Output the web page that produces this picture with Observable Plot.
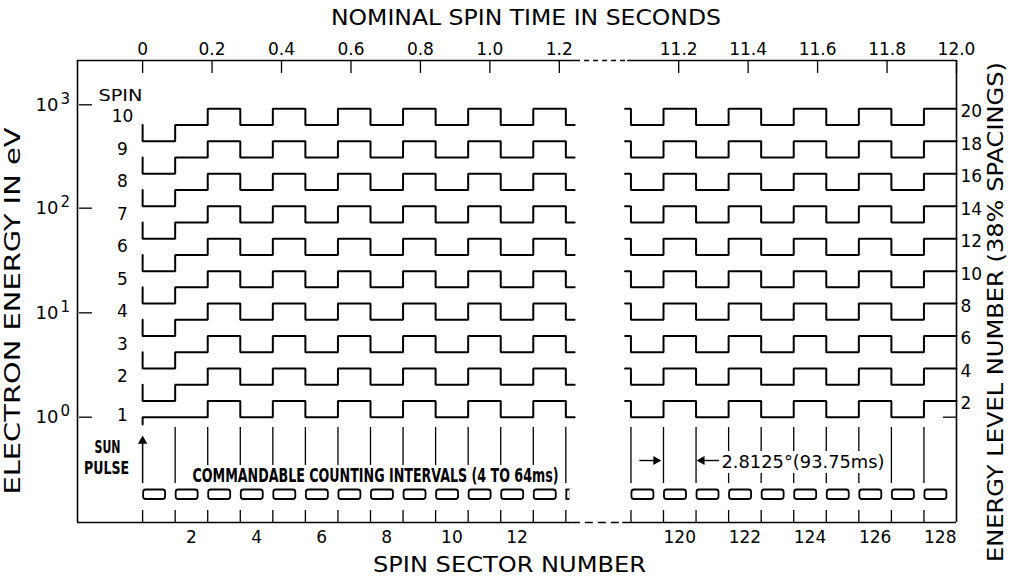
<!DOCTYPE html>
<html><head><meta charset="utf-8">
<script src="https://cdn.jsdelivr.net/npm/d3@7"></script>
<script src="https://cdn.jsdelivr.net/npm/@observablehq/plot@0.6"></script>
<style>html,body{margin:0;padding:0;background:#fff;} #chart svg{display:block;}</style>
</head><body><div id="chart"></div>
<script>
// ---------------- data ----------------
const spins = [1, 2, 3, 4, 5, 6, 7, 8, 9, 10];
const spinStartLevel = [0.55, 3, 5, 7, 9, 11, 13, 15, 17, 19];
const spinFirstLevel = [1, 2, 4, 6, 8, 10, 12, 14, 16, 18];
const spinLowLevel   = [1, 3, 5, 7, 9, 11, 13, 15, 17, 19];
const spinHighLevel  = [2, 4, 6, 8, 10, 12, 14, 16, 18, 20];
const spinLabelLevel = [1.1, 3.5, 5.5, 7.5, 9.5, 11.5, 13.5, 15.5, 17.5, 19.5];

const leftSectors = [1, 2, 3, 4, 5, 6, 7, 8, 9, 10, 11, 12, 13];
const leftSectorState = ["first", "low", "high", "low", "high", "low", "high", "low", "high", "low", "high", "low", "high"];
const leftTailState = "low";
const rightSectors = [119, 120, 121, 122, 123, 124, 125, 126, 127, 128];
const rightSectorState = ["low", "high", "low", "high", "low", "high", "low", "high", "low", "high"];
const rightLeadState = "high";

const sectorLabelsLeft = [2, 4, 6, 8, 10, 12];
const sectorLabelsRight = [120, 122, 124, 126, 128];
const timeTicks = [0, 0.2, 0.4, 0.6, 0.8, 1.0, 1.2, 11.2, 11.4, 11.6, 11.8, 12.0];
const timeTickLabels = ["0", "0.2", "0.4", "0.6", "0.8", "1.0", "1.2", "11.2", "11.4", "11.6", "11.8", "12.0"];
const energyExponents = ["0", "1", "2", "3"];
const energyTickLevels = [1, 7.43, 13.88, 20.25];
const levelLabels = [2, 4, 6, 8, 10, 12, 14, 16, 18, 20];
const levelTickExtra = [1];

const sectorSeconds = 0.09375;        // 93.75 ms per sector
const spacingText = "2.8125°(93.75ms)";
const countText = "COMMANDABLE COUNTING INTERVALS (4 TO 64ms)";
const titleTop = "NOMINAL SPIN TIME IN SECONDS";
const titleBottom = "SPIN SECTOR NUMBER";
const titleLeft = "ELECTRON ENERGY IN eV";
const titleRight = "ENERGY LEVEL NUMBER (38% SPACINGS)";

// ---------------- layout (sector units, broken axis) ----------------
const BREAK_SHIFT = 103;
const sectorU = n => n <= 64 ? n - 1 : n - 1 - BREAK_SHIFT;
const timeU = t => t < 6 ? t / sectorSeconds : t / sectorSeconds - BREAK_SHIFT;
const xDomain = [-2, 25];
const yDomain = [-5.49, 22.98];
const topBreak = [13.3, 14.9];
const bottomBreak = [13.2, 14.75];
const stubLen = 0.27, leadLen = 0.18;
const annLevel = -1.67;
const countTextSpan = [1.47, 12.84];
const spacingTextSpan = [17.72, 22.85];

// waveform vertices
const wave = [];
spins.forEach((s, i) => {
  const lv = {first: spinFirstLevel[i], low: spinLowLevel[i], high: spinHighLevel[i]};
  const u0 = sectorU(leftSectors[0]);
  wave.push({u: u0, level: spinStartLevel[i], key: s + "L"});
  leftSectors.forEach((n, j) => {
    const l = lv[leftSectorState[j]];
    wave.push({u: sectorU(n), level: l, key: s + "L"}, {u: sectorU(n) + 1, level: l, key: s + "L"});
  });
  const endU = sectorU(leftSectors[leftSectors.length - 1]) + 1;
  wave.push({u: endU, level: lv[leftTailState], key: s + "L"}, {u: endU + stubLen, level: lv[leftTailState], key: s + "L"});
  const r0 = sectorU(rightSectors[0]);
  wave.push({u: r0 - leadLen, level: lv[rightLeadState], key: s + "R"}, {u: r0, level: lv[rightLeadState], key: s + "R"});
  rightSectors.forEach((n, j) => {
    const l = lv[rightSectorState[j]];
    wave.push({u: sectorU(n), level: l, key: s + "R"}, {u: sectorU(n) + 1, level: l, key: s + "R"});
  });
});

const leftBounds = leftSectors.map(sectorU).concat([sectorU(leftSectors[leftSectors.length - 1]) + 1]);
const rightBounds = rightSectors.map(sectorU);
const allBounds = leftBounds.concat(rightBounds);
const innerBounds = allBounds.filter(u => u !== 0);
const boxSectors = leftSectors.concat(rightSectors);
const partialBox = [leftSectors[leftSectors.length - 1] + 1];

const F = "DejaVu Sans, Liberation Sans, sans-serif";
const FN = "DejaVu Sans Condensed, Liberation Sans Narrow, DejaVu Sans, sans-serif";

const chart = Plot.plot({
  width: 1019, height: 580,
  marginLeft: 77, marginRight: 63, marginTop: 60, marginBottom: 58,
  x: {domain: xDomain, axis: null},
  y: {domain: yDomain, axis: null},
  style: {fontFamily: F, background: "white", color: "black"},
  marks: [
    // frame
    Plot.ruleX([xDomain[0], xDomain[1]], {strokeWidth: 1.6}),
    Plot.ruleY([yDomain[1]], {x1: xDomain[0], x2: topBreak[0], strokeWidth: 1.6}),
    Plot.ruleY([yDomain[1]], {x1: topBreak[0], x2: topBreak[1], strokeWidth: 1.4, strokeDasharray: "5,4"}),
    Plot.ruleY([yDomain[1]], {x1: topBreak[1], x2: xDomain[1], strokeWidth: 1.6}),
    Plot.ruleY([yDomain[0]], {x1: xDomain[0], x2: bottomBreak[0], strokeWidth: 1.6}),
    Plot.ruleY([yDomain[0]], {x1: bottomBreak[0], x2: bottomBreak[1], strokeWidth: 1.4, strokeDasharray: "8,5"}),
    Plot.ruleY([yDomain[0]], {x1: bottomBreak[1], x2: xDomain[1], strokeWidth: 1.6}),
    // top time ticks
    Plot.ruleX(timeTicks.map(timeU), {insetBottom: 449, strokeWidth: 1.3}),
    Plot.text(timeTicks, {x: timeU, text: (d, i) => timeTickLabels[i], frameAnchor: "top", dy: -10.5, lineAnchor: "middle", fontSize: 17}),
    // bottom sector ticks
    Plot.ruleX(allBounds, {insetTop: 450, strokeWidth: 1.3}),
    Plot.text(sectorLabelsLeft.concat(sectorLabelsRight), {x: d => sectorU(d) + 0.5, text: d => String(d), frameAnchor: "bottom", dy: 15, lineAnchor: "middle", fontSize: 17}),
    // sector boundary lines
    Plot.ruleX(innerBounds, {insetTop: 367, insetBottom: 39, strokeWidth: 1.3}),
    // sun pulse
    Plot.ruleX([0], {insetTop: 380, insetBottom: 39, strokeWidth: 1.5}),
    Plot.dot([0], {x: d => d, frameAnchor: "top", dy: 380.5, symbol: "triangle", r: 3.5, fill: "black", stroke: "none"}),
    // counting interval boxes
    Plot.rect(boxSectors, {x1: d => sectorU(d), x2: d => sectorU(d) + 1, insetLeft: 1, insetRight: 9.6, insetTop: 429.5, insetBottom: 23, rx: 2.5, fill: "white", stroke: "black", strokeWidth: 1.8}),
    Plot.rect(partialBox, {x1: d => sectorU(d), x2: d => sectorU(d) + 1, insetLeft: 1, insetRight: 27.5, insetTop: 429.5, insetBottom: 23, fill: "white", stroke: "black", strokeWidth: 1.8}),
    Plot.ruleX(partialBox, {x: d => sectorU(d) + 1, dx: -27.5, insetTop: 428.5, insetBottom: 22, stroke: "white", strokeWidth: 3}),
    // waveforms
    Plot.line(wave, {x: "u", y: "level", z: "key", stroke: "black", strokeWidth: 2, strokeLinejoin: "miter"}),
    // left energy axis
    Plot.tickY(energyTickLevels, {y: d => d, insetLeft: 2, insetRight: 864, strokeWidth: 1.3}),
    Plot.text(energyTickLevels, {y: d => d, text: () => "10", frameAnchor: "left", dx: -19, textAnchor: "end", lineAnchor: "middle", fontSize: 18}),
    Plot.text(energyTickLevels, {y: d => d, text: (d, i) => energyExponents[i], frameAnchor: "left", dx: -17, dy: -6, textAnchor: "start", lineAnchor: "middle", fontSize: 15}),
    // right level axis
    Plot.tickY(levelTickExtra, {y: d => d, insetLeft: 866, strokeWidth: 1.3}),
    Plot.text(levelLabels, {y: d => d, text: d => String(d), frameAnchor: "right", dx: 4, dy: 3, textAnchor: "start", lineAnchor: "middle", fontSize: 17}),
    // spin labels
    Plot.text(spins, {y: (d, i) => spinLabelLevel[i], text: d => String(d), frameAnchor: "left", dx: 45, textAnchor: "middle", lineAnchor: "middle", fontSize: 17}),
    Plot.text(["SPIN"], {y: () => 20.8, text: d => d, frameAnchor: "left", dx: 43, textAnchor: "middle", lineAnchor: "middle", fontSize: 15}),
    // sun pulse label
    Plot.text(["SUN"], {text: d => d, frameAnchor: "top-left", dx: 30, dy: 386.7, textAnchor: "middle", lineAnchor: "middle", fontFamily: FN, fontWeight: "bold", fontSize: 18}),
    Plot.text(["PULSE"], {text: d => d, frameAnchor: "top-left", dx: 29, dy: 408, textAnchor: "middle", lineAnchor: "middle", fontFamily: FN, fontWeight: "bold", fontSize: 18}),
    // counting intervals text (white backing breaks the sector lines)
    Plot.rect([countText], {x1: () => countTextSpan[0], x2: () => countTextSpan[1], insetTop: 405, insetBottom: 37, fill: "white"}),
    Plot.text([countText], {text: d => d, frameAnchor: "top-left", dx: 298, dy: 415.5, textAnchor: "middle", lineAnchor: "middle", fontFamily: FN, fontWeight: "bold", fontSize: 20}),
    // spacing annotation
    Plot.link([0], {x1: () => 15.26, x2: () => 15.76, y1: () => annLevel, y2: () => annLevel, strokeWidth: 1.4}),
    Plot.dot([0], {x: () => 15.77, y: () => annLevel, symbol: "triangle", rotate: 90, r: 3.4, fill: "black", stroke: "none"}),
    Plot.link([0], {x1: () => 17.17, x2: () => 17.72, y1: () => annLevel, y2: () => annLevel, strokeWidth: 1.4}),
    Plot.dot([0], {x: () => 17.18, y: () => annLevel, symbol: "triangle", rotate: -90, r: 3.4, fill: "black", stroke: "none"}),
    Plot.rect([spacingText], {x1: () => spacingTextSpan[0], x2: () => spacingTextSpan[1], insetTop: 391, insetBottom: 49, fill: "white"}),
    Plot.text([spacingText], {text: d => d, frameAnchor: "top-left", dx: 644, dy: 402, textAnchor: "start", lineAnchor: "middle", fontSize: 18}),
    // titles
    Plot.text([titleTop], {text: d => d, frameAnchor: "top", dx: 9, dy: -42, lineAnchor: "middle", fontSize: 21}),
    Plot.text([titleBottom], {text: d => d, frameAnchor: "bottom", dx: -7.5, dy: 43, lineAnchor: "middle", fontSize: 21}),
    Plot.text([titleLeft], {text: d => d, frameAnchor: "left", rotate: -90, textAnchor: "middle", lineAnchor: "middle", fontSize: 22}),
    Plot.text([titleRight], {text: d => d, frameAnchor: "right", rotate: -90, textAnchor: "middle", lineAnchor: "middle", fontSize: 22})
  ]
});

function fit(svg, str, len) {
  for (const t of svg.querySelectorAll("text")) {
    if (t.textContent === str) { t.setAttribute("textLength", len); t.setAttribute("lengthAdjust", "spacingAndGlyphs"); }
  }
}
function place(svg, str, cx, cy, rot) {
  for (const t of svg.querySelectorAll("text")) {
    if (t.textContent === str) {
      t.removeAttribute("x"); t.removeAttribute("y");
      t.setAttribute("transform", `translate(${cx},${cy}) rotate(${rot})`);
      t.setAttribute("text-anchor", "middle");
      if (t.parentNode && t.parentNode.removeAttribute) t.parentNode.removeAttribute("transform");
    }
  }
}
place(chart, titleLeft, 20, 311, -90);
place(chart, titleRight, 1003, 312, -90);
fit(chart, titleTop, 390);
fit(chart, titleBottom, 273);
fit(chart, titleLeft, 367);
fit(chart, titleRight, 500);
fit(chart, countText, 366);
fit(chart, spacingText, 163);
fit(chart, "PULSE", 45);
fit(chart, "SUN", 26);
fit(chart, "SPIN", 44);
document.getElementById("chart").appendChild(chart);
</script>
</body></html>
